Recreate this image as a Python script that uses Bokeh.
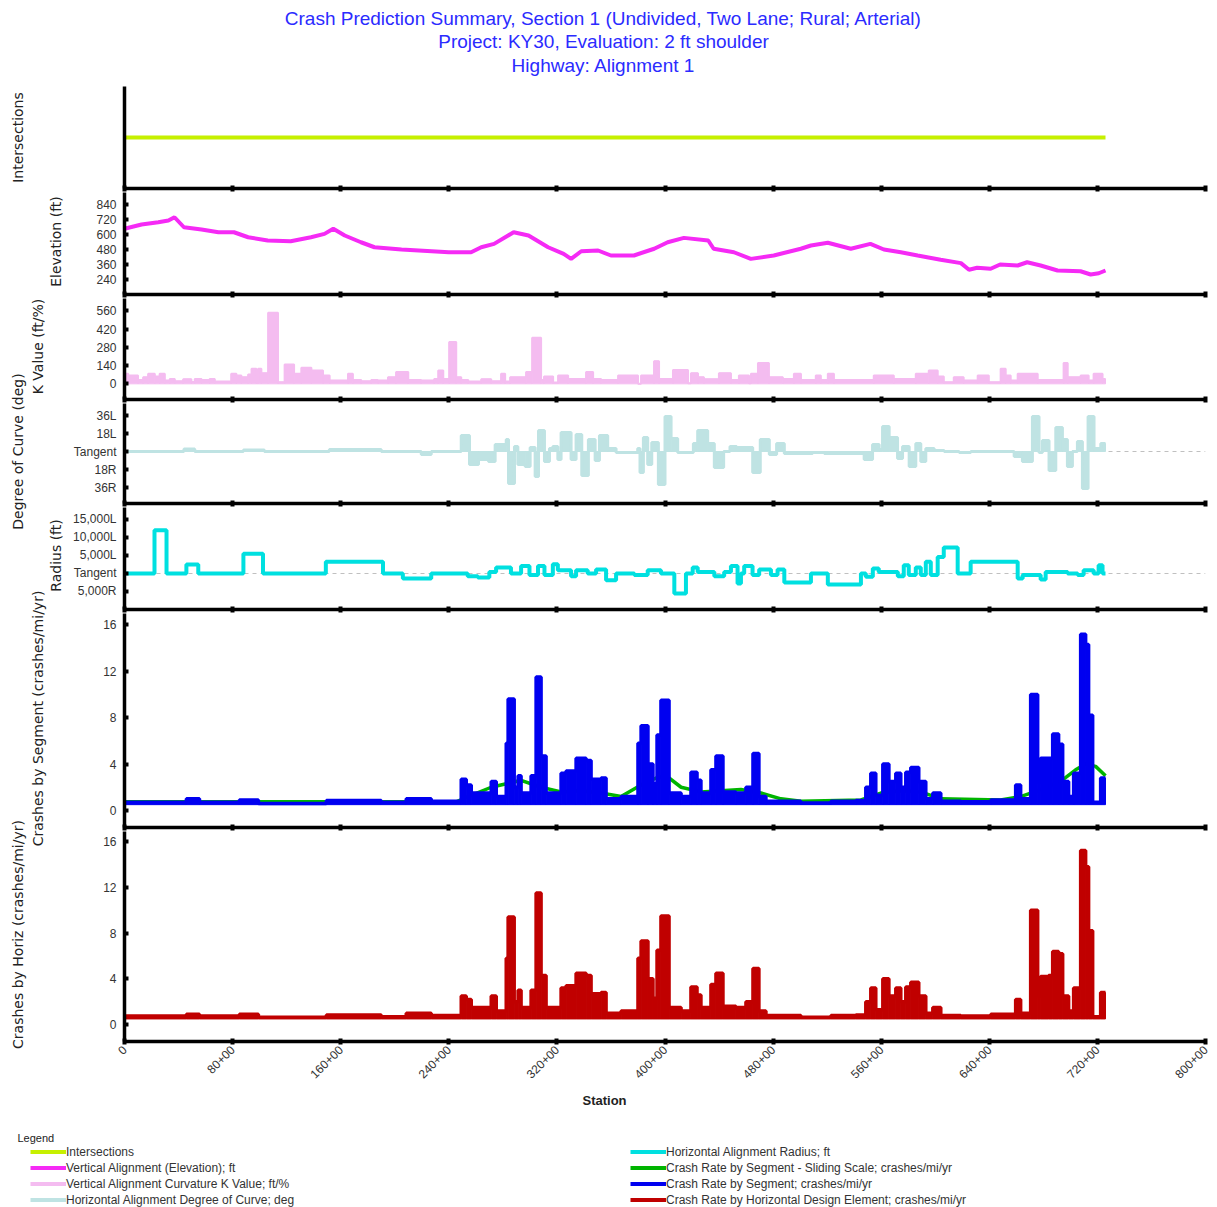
import math
from bokeh.plotting import figure
from bokeh.layouts import column, row
from bokeh.models import Range1d, FixedTicker, Span, Label, Legend, LegendItem
from bokeh.embed import file_html
from bokeh.resources import INLINE

# ---------------- data ----------------
TITLE_LINES = [
    "Crash Prediction Summary, Section 1 (Undivided, Two Lane; Rural; Arterial)",
    "Project: KY30, Evaluation: 2 ft shoulder",
    "Highway: Alignment 1",
]
STATION_TICKS = [0, 80, 160, 240, 320, 400, 480, 560, 640, 720, 800]
STATION_TICK_LABELS = ["0", "80+00", "160+00", "240+00", "320+00", "400+00",
                       "480+00", "560+00", "640+00", "720+00", "800+00"]

AXIS_TITLES = ["Intersections", "Elevation (ft)", "K Value (ft/%)", "Degree of Curve (deg)",
               "Radius (ft)", "Crashes by Segment (crashes/mi/yr)", "Crashes by Horiz (crashes/mi/yr)"]

INT_STATIONS = [0, 726]
INT_LEVEL = [0, 0]

ELEV_STATION = [0, 12.6, 25, 32.5, 37, 44, 57, 69.5, 81, 91.5, 106, 123, 138, 148, 154.5, 163, 175, 185,
                205, 240, 256.5, 264, 273.5, 288, 299, 313.5, 325, 330.5, 338, 350.5, 360, 377, 392, 402,
                414, 432, 436, 451, 463.5, 480.5, 500.5, 508, 520.5, 537.5, 552, 562, 574.5, 587, 604,
                619, 625, 631, 641, 648, 661, 668, 678, 690.5, 707.5, 715, 721, 726]
ELEV_FT = [646, 680, 698, 712, 738, 658, 640, 618, 618, 578, 552, 546, 578, 605, 646, 592, 538, 498,
           480, 458, 458, 498, 525, 618, 592, 498, 445, 405, 466, 472, 432, 432, 486, 538,
           573, 552, 486, 458, 405, 432, 486, 512, 534, 486, 525, 480, 458, 432, 398,
           371, 318, 334, 326, 360, 352, 378, 352, 312, 306, 280, 290, 312]
ELEV_TICKS = [240, 360, 480, 600, 720, 840]

K_EDGES = [0, 2.7, 10, 13.8, 17.5, 22.4, 26, 29.8, 33.5, 37.2, 43.4, 49.5, 52, 57, 63, 66.8, 79, 82.8,
           86.5, 91.5, 94, 97.6, 98.9, 101.3, 106.3, 113.6, 118.5, 125.5, 130.9, 138.3, 146.9, 151.8,
           165.4, 169, 175.2, 182.6, 187.6, 195, 201, 210, 219.6, 229.2, 232.2, 235.9, 240.3, 245.5,
           249.2, 254.4, 264, 271.4, 278.7, 281.7, 285.4, 297.2, 301.7, 308.3, 310.5, 317.2, 320.9,
           328.3, 341.6, 346.8, 352.7, 365.3, 380, 382.3, 391.9, 395.6, 405.9, 417, 419.2, 424.4,
           428.8, 439.9, 448.8, 454.7, 462.1, 463.6, 468.8, 476.9, 487.2, 495.4, 500.6, 511.6, 515.3,
           520.5, 525, 554.5, 569.3, 585.6, 595.2, 601.8, 606.3, 613.7, 621, 631.4, 639.6, 648.4,
           652.1, 655.8, 661, 675.8, 695, 698, 707.6, 713.5, 717.2, 723.8, 726]
K_VALUES = [77, 64, 30, 51, 77, 56, 77, 26, 38, 20, 36, 15, 38, 30, 38, 18, 77, 64, 51, 72, 115, 13,
            115, 82, 545, 13, 148, 77, 123, 102, 64, 26, 77, 30, 20, 30, 26, 51, 90, 30, 26, 38, 102,
            38, 320, 51, 30, 18, 36, 20, 77, 18, 51, 90, 353, 30, 56, 10, 64, 38, 90, 38, 30, 64, 0,
            64, 174, 38, 107, 5, 82, 51, 36, 82, 30, 64, 5, 77, 159, 51, 38, 77, 30, 64, 30, 77, 30,
            64, 38, 77, 102, 56, 13, 51, 26, 64, 13, 115, 64, 26, 77, 30, 159, 51, 64, 26, 77, 38]
K_TICKS = [0, 140, 280, 420, 560]

DEG_EDGES = [0, 44, 52, 88, 103.5, 151.6, 190, 219.6, 227, 249.2, 255.3, 262, 269.4, 274.3, 282.5,
             284.2, 288.6, 291.1, 296.5, 300.2, 303.9, 306.4, 310.8, 314.5, 317, 320.7, 323.1, 330.5,
             334.2, 338.4, 343.3, 348.3, 351.5, 357.6, 363.8, 379.8, 381.5, 384, 387.2, 390.2, 395.1,
             400, 404.5, 409.4, 421, 424.2, 431.6, 436.5, 443.4, 448.1, 453, 464.9, 470.5, 477.2,
             482.6, 488.3, 509.2, 517.9, 547.4, 553.6, 558.5, 561, 565.9, 572.1, 575.8, 580.7, 585.6,
             589.3, 593, 599.2, 606.6, 617.7, 626.3, 658.4, 664.5, 671.9, 676.8, 679.3, 684.2, 689.2,
             694.1, 697.8, 701.5, 705.2, 708.9, 713.1, 717.5, 722.5, 726]
DEG_VALUES = [0, 2.5, 0, 1.5, 0, 2, 0, -3, 0, 16, -13, -8, -10, 7, 12, -32, 5, -13, -15, 4, -25, 21,
              -10, 3, 5, -8, 19, -8, 17, -24, 12, -9, 16, 3, -1, 3, -21, 14, -13, 9, -33, 35, 13, -1,
              8, 21, 8, -16, 0, 5, 4, -21, 12, -3, 8, -2, -1, -2, -8, 7, 2, 25, 14, -7, 5, -15, 8,
              -10, 3, 1, 0, -1, 0, -5, -10, 35, -1, 11, -19, 24, 12, -15, 0, 10, -37, 35, 3, 8]
DEG_TICKS = [36, 18, 0, -18, -36]
DEG_TICK_LABELS = ["36L", "18L", "Tangent", "18R", "36R"]

RAD_EDGES = [0, 22.2, 31.1, 45.8, 54.6, 88, 102.5, 149, 191.3, 206, 227, 254, 261.5, 270, 275, 286,
             293.5, 299.7, 306, 310.8, 317, 320.7, 330.5, 334.2, 342.8, 349, 356.4, 363.8, 377.3,
             387.2, 397, 406.9, 415.5, 420.5, 424.2, 436.5, 443.8, 448.8, 453.7, 456.2, 458.6, 464.8,
             469.7, 478.4, 483.3, 488.3, 508, 520.5, 545, 548.6, 553.8, 558.2, 572.3, 576.7, 580.4,
             585.6, 589.3, 593, 596.7, 601.8, 606.3, 616.6, 626.2, 661, 664.7, 678, 681.7, 698,
             705.4, 709.8, 717.2, 720.9, 723.8, 726]
RAD_VALUES = [0, 12000, 0, 2500, 0, 5500, 0, 3250, 0, -1400, 0, -750, -1100, 450, 1650, 0, 2100, -450,
              2100, -450, 2600, 900, -750, 900, 0, 1100, -1850, 0, -450, 900, 0, -5550, 0, 1650, 450,
              -750, 450, 2100, -2800, 0, 2100, -450, 1100, -450, 1100, -2500, 0, -3050, 0, -900, 1400,
              450, -750, 2300, -450, 1650, -450, 3250, -450, 4600, 7200, 0, 3250, -1400, -450, -1650,
              450, 0, -450, 900, 0, 2300, 0]
RAD_TICKS = [15000, 10000, 5000, 0, -5000]
RAD_TICK_LABELS = ["15,000L", "10,000L", "5,000L", "Tangent", "5,000R"]

CRASH_TICKS = [0, 4, 8, 12, 16]

SEG_EDGES = [0, 45.8, 55.5, 85, 99.1, 149.4, 190, 208.5, 227, 249.2, 252.9, 256.6, 271.4, 275.1,
             282.5, 283.9, 288.4, 291.3, 293.5, 300.9, 304.6, 308.3, 312, 323.1, 326.8, 334.2, 341.6,
             345.3, 352.7, 356.4, 367.5, 380, 382.3, 387.4, 391.1, 394.1, 397, 403, 411.9, 419.2,
             423.7, 426.6, 434, 437.7, 442.9, 452.5, 459.9, 465.1, 469.5, 474.7, 500.6, 522.8, 541.2,
             548.6, 552.3, 556, 561.2, 565.7, 570.8, 574.5, 578.2, 581.9, 587.8, 593, 598.2, 604.1,
             618.9, 641.1, 659.5, 663.2, 670.6, 675.8, 678, 683.9, 686.9, 691.3, 694.3, 698.7, 702.4,
             707.6, 711.3, 713.5, 716.5, 722.4, 726]
SEG_VALUES = [0.7, 1.0, 0.7, 0.9, 0.6, 0.85, 0.7, 1.0, 0.8, 2.7, 2.2, 1.5, 2.5, 1.2, 5.8, 9.6, 2.0,
              3.0, 1.5, 3.0, 11.5, 4.7, 1.5, 3.2, 3.4, 4.5, 4.3, 2.7, 2.8, 1.0, 1.2, 5.8, 7.3, 4.0,
              2.3, 6.5, 9.5, 1.5, 1.2, 3.3, 2.6, 1.5, 3.5, 4.7, 1.6, 1.5, 2.0, 4.9, 1.2, 0.8, 0.65,
              0.8, 0.85, 2.0, 3.2, 1.3, 4.0, 2.5, 3.2, 2.0, 3.3, 3.7, 2.5, 1.0, 1.5, 0.8, 0.75, 0.9,
              2.2, 1.0, 10.0, 2.5, 4.5, 4.5, 6.6, 5.7, 2.5, 1.2, 3.2, 15.2, 14.3, 8.2, 0.7, 2.8]

SLIDE_STATION = [0, 245.5, 256.6, 271.4, 282.5, 293.5, 308.3, 323.1, 338, 352.7, 367.5, 382.3, 393.4,
                 400.8, 411.9, 426.6, 441.4, 456.2, 471, 485.8, 500.6, 545, 559.7, 574.5, 589.3,
                 604.1, 648.4, 663.2, 678, 692.8, 703.9, 711.3, 718.7, 726]
SLIDE_VALUES = [0.75, 0.75, 1.3, 2.0, 2.3, 2.6, 2.0, 1.6, 1.7, 1.5, 1.2, 2.2, 2.8, 3.0, 2.0, 1.6, 1.7,
                1.8, 1.5, 1.0, 0.8, 0.9, 1.5, 1.7, 1.6, 1.0, 0.9, 1.2, 1.8, 2.5, 3.5, 4.0, 3.8, 3.0]

HORIZ_EDGES = [0, 45.8, 55.5, 85, 99.1, 149.4, 190, 208.5, 227, 249.2, 252.9, 256.6, 271.4, 275.1,
               282.5, 283.9, 288.4, 291.3, 293.5, 300.9, 304.6, 308.3, 312, 323.1, 326.8, 334.2, 341.6,
               345.3, 352.7, 356.4, 367.5, 380, 382.3, 387.4, 391.1, 394.1, 397, 403, 411.9, 419.2,
               423.7, 426.6, 434, 437.7, 442.9, 452.5, 459.9, 465.1, 469.5, 474.7, 500.6, 522.8, 541.2,
               548.6, 552.3, 556, 561.2, 565.7, 570.8, 574.5, 578.2, 581.9, 587.8, 593, 598.2, 604.1,
               618.9, 641.1, 659.5, 663.2, 670.6, 675.8, 678, 683.9, 686.9, 691.3, 694.3, 698.7, 702.4,
               707.6, 711.3, 713.5, 716.5, 722.4, 726]
HORIZ_VALUES = [0.75, 0.9, 0.75, 0.9, 0.65, 0.85, 0.7, 1.0, 0.8, 2.5, 2.2, 1.5, 2.5, 1.2, 5.8, 9.4,
                2.0, 3.0, 1.5, 3.0, 11.5, 4.3, 1.5, 3.2, 3.4, 4.5, 4.3, 2.7, 2.8, 1.0, 1.2, 5.8, 7.3,
                4.0, 2.3, 6.5, 9.5, 1.5, 1.2, 3.3, 2.6, 1.5, 3.5, 4.5, 1.6, 1.5, 2.0, 4.9, 1.2, 0.8,
                0.65, 0.8, 0.85, 2.0, 3.2, 1.3, 4.0, 2.5, 3.2, 2.0, 3.3, 3.7, 2.5, 1.0, 1.5, 0.8, 0.75,
                0.9, 2.2, 1.0, 10.0, 2.5, 4.2, 4.3, 6.4, 6.2, 2.5, 1.2, 3.2, 15.2, 13.8, 8.2, 0.7, 2.8]

LEGEND_LEFT = [("Intersections", "#c6f000"),
               ("Vertical Alignment (Elevation); ft", "#f52af5"),
               ("Vertical Alignment Curvature K Value; ft/%", "#f4bcf0"),
               ("Horizontal Alignment Degree of Curve; deg", "#bfe3e3")]
LEGEND_RIGHT = [("Horizontal Alignment Radius; ft", "#00e0e0"),
                ("Crash Rate by Segment - Sliding Scale; crashes/mi/yr", "#00b400"),
                ("Crash Rate by Segment; crashes/mi/yr", "#0000f0"),
                ("Crash Rate by Horizontal Design Element; crashes/mi/yr", "#c00000")]

# ---------------- styling ----------------
FONT = "Liberation Sans"
LABEL_FONT = "DejaVu Sans"
TICK_COLOR = "#333333"
INT_C, ELEV_C, K_C, DEG_C = [c for _, c in LEGEND_LEFT]
RAD_C, SLIDE_C, SEG_C, HORIZ_C = [c for _, c in LEGEND_RIGHT]
PAGE_W = 1217
LABEL_W = 70
CRASH_BAR_BASE = 0.5

xr = Range1d(0, 800)


def make_panel(frame_h, y0, y1, ticks, tick_labels=None, last=False):
    bottom = 42 if last else 4
    p = figure(width=PAGE_W - LABEL_W, height=frame_h + bottom, x_range=xr, y_range=Range1d(y0, y1),
               output_backend="svg", toolbar_location=None, tools="",
               min_border_left=53, min_border_right=12, min_border_top=0, min_border_bottom=bottom)
    p.grid.visible = False
    p.outline_line_color = None
    xa = p.xaxis[0]
    xa.ticker = FixedTicker(ticks=STATION_TICKS)
    xa.axis_line_width = 3.5
    xa.axis_line_color = "black"
    xa.major_tick_line_width = 4
    xa.major_tick_line_color = "black"
    xa.major_tick_in = 3
    xa.major_tick_out = 3
    xa.minor_tick_line_color = None
    if last:
        xa.major_label_overrides = dict(zip(STATION_TICKS, STATION_TICK_LABELS))
        xa.major_label_orientation = math.pi / 4
        xa.major_label_text_font = FONT
        xa.major_label_text_font_size = "12px"
        xa.major_label_text_color = TICK_COLOR
        xa.major_label_standoff = 3
    else:
        xa.major_label_overrides = {t: "" for t in STATION_TICKS}
        xa.major_label_text_font_size = "0px"
        xa.major_label_standoff = 0
    ya = p.yaxis[0]
    ya.ticker = FixedTicker(ticks=ticks)
    if tick_labels:
        ya.major_label_overrides = dict(zip(ticks, tick_labels))
    ya.axis_line_width = 3.5
    ya.axis_line_color = "black"
    ya.major_tick_line_width = 4
    ya.major_tick_line_color = "black"
    ya.major_tick_in = 4
    ya.major_tick_out = 1
    ya.minor_tick_line_color = None
    ya.major_label_text_font = FONT
    ya.major_label_text_font_size = "12px"
    ya.major_label_text_color = TICK_COLOR
    ya.major_label_standoff = 7
    return p


def step_line(p, edges, vals, color, width):
    p.step(x=edges, y=list(vals) + [vals[-1]], mode="after", line_color=color, line_width=width)


def filled_steps(p, edges, vals, color, width, base=0):
    p.quad(left=edges[:-1], right=edges[1:], bottom=[min(base, v) for v in vals],
           top=[max(base, v) for v in vals], fill_color=color, line_color=color, line_width=1)
    step_line(p, edges, vals, color, width)


# 1 Intersections
p1 = make_panel(102, -1, 1, [])
p1.line(INT_STATIONS, INT_LEVEL, line_color=INT_C, line_width=4)

# 2 Elevation
p2 = make_panel(102, 120, 936, ELEV_TICKS)
p2.line(ELEV_STATION, ELEV_FT, line_color=ELEV_C, line_width=4)

# 3 K value
p3 = make_panel(101, -120, 654, K_TICKS)
filled_steps(p3, K_EDGES, K_VALUES, K_C, 2)

# 4 Degree of curve
p4 = make_panel(100, -52, 48, DEG_TICKS, DEG_TICK_LABELS)
p4.add_layout(Span(location=0, dimension="width", line_color="#c0c0c0", line_dash="4 4",
                   line_width=1, level="underlay"))
filled_steps(p4, DEG_EDGES, DEG_VALUES, DEG_C, 3)

# 5 Radius
p5 = make_panel(102, -10000, 18333, RAD_TICKS, RAD_TICK_LABELS)
p5.add_layout(Span(location=0, dimension="width", line_color="#c0c0c0", line_dash="4 4",
                   line_width=1, level="underlay"))
step_line(p5, RAD_EDGES, RAD_VALUES, RAD_C, 4)

# 6 Crashes by segment
p6 = make_panel(214, -1.47, 16.98, CRASH_TICKS)
p6.line(SLIDE_STATION, SLIDE_VALUES, line_color=SLIDE_C, line_width=3.5)
filled_steps(p6, SEG_EDGES, SEG_VALUES, SEG_C, 3.5, base=CRASH_BAR_BASE)

# 7 Crashes by horizontal element
p7 = make_panel(212, -1.47, 16.87, CRASH_TICKS, last=True)
filled_steps(p7, HORIZ_EDGES, HORIZ_VALUES, HORIZ_C, 3.5, base=CRASH_BAR_BASE)

panels = [p1, p2, p3, p4, p5, p6, p7]
total_h = sum(p.height for p in panels)


def blank_fig(w, h):
    f = figure(width=w, height=h, x_range=Range1d(0, w), y_range=Range1d(h, 0),
               output_backend="svg", toolbar_location=None, tools="",
               x_axis_location=None, y_axis_location=None,
               min_border_left=0, min_border_right=0, min_border_top=0, min_border_bottom=0)
    f.grid.visible = False
    f.outline_line_color = None
    return f


# axis titles (left strip)
lab = blank_fig(LABEL_W, total_h)
title_x = [17, 55, 37, 17, 55, 37, 17]
title_y = [51, 155, 260, 365, 469, 632, 848]
for t, xx, yy in zip(AXIS_TITLES, title_x, title_y):
    lab.add_layout(Label(x=xx, y=yy, text=t, angle=math.pi / 2, text_align="center",
                         text_baseline="middle", text_font=LABEL_FONT, text_font_size="14px",
                         text_color="#222222"))

# title
tf = blank_fig(PAGE_W, 86)
for t, yy in zip(TITLE_LINES, [18, 41, 65]):
    tf.add_layout(Label(x=603, y=yy, text=t, text_align="center", text_baseline="middle",
                        text_font=FONT, text_font_size="19px", text_color="#2b2bff"))

# legend area
lf = blank_fig(PAGE_W, 122)
lf.add_layout(Label(x=604, y=15, text="Station", text_align="center", text_baseline="middle",
                    text_font=FONT, text_font_style="bold", text_font_size="13px",
                    text_color="#222222"))
lf.add_layout(Label(x=17, y=52, text="Legend", text_align="left", text_baseline="middle",
                    text_font=FONT, text_font_size="11px", text_color="#222222"))


def make_legend(entries, x):
    items = []
    for name, color in entries:
        r = lf.line(x=[float("nan")], y=[float("nan")], line_color=color, line_width=4)
        items.append(LegendItem(label=name, renderers=[r]))
    return Legend(items=items, location=(x, 0), orientation="vertical", glyph_width=36,
                  glyph_height=15, label_height=15, spacing=1, padding=0, margin=0,
                  label_standoff=0, border_line_color=None, background_fill_alpha=0,
                  label_text_font=FONT, label_text_font_size="12px", label_text_color="#333333")


lf.add_layout(make_legend(LEGEND_LEFT, 30))
lf.add_layout(make_legend(LEGEND_RIGHT, 630))

layout = column(tf, row(lab, column(*panels)), lf)

with open("out.html", "w") as f:
    f.write(file_html(layout, INLINE, title="Crash Prediction Summary"))
